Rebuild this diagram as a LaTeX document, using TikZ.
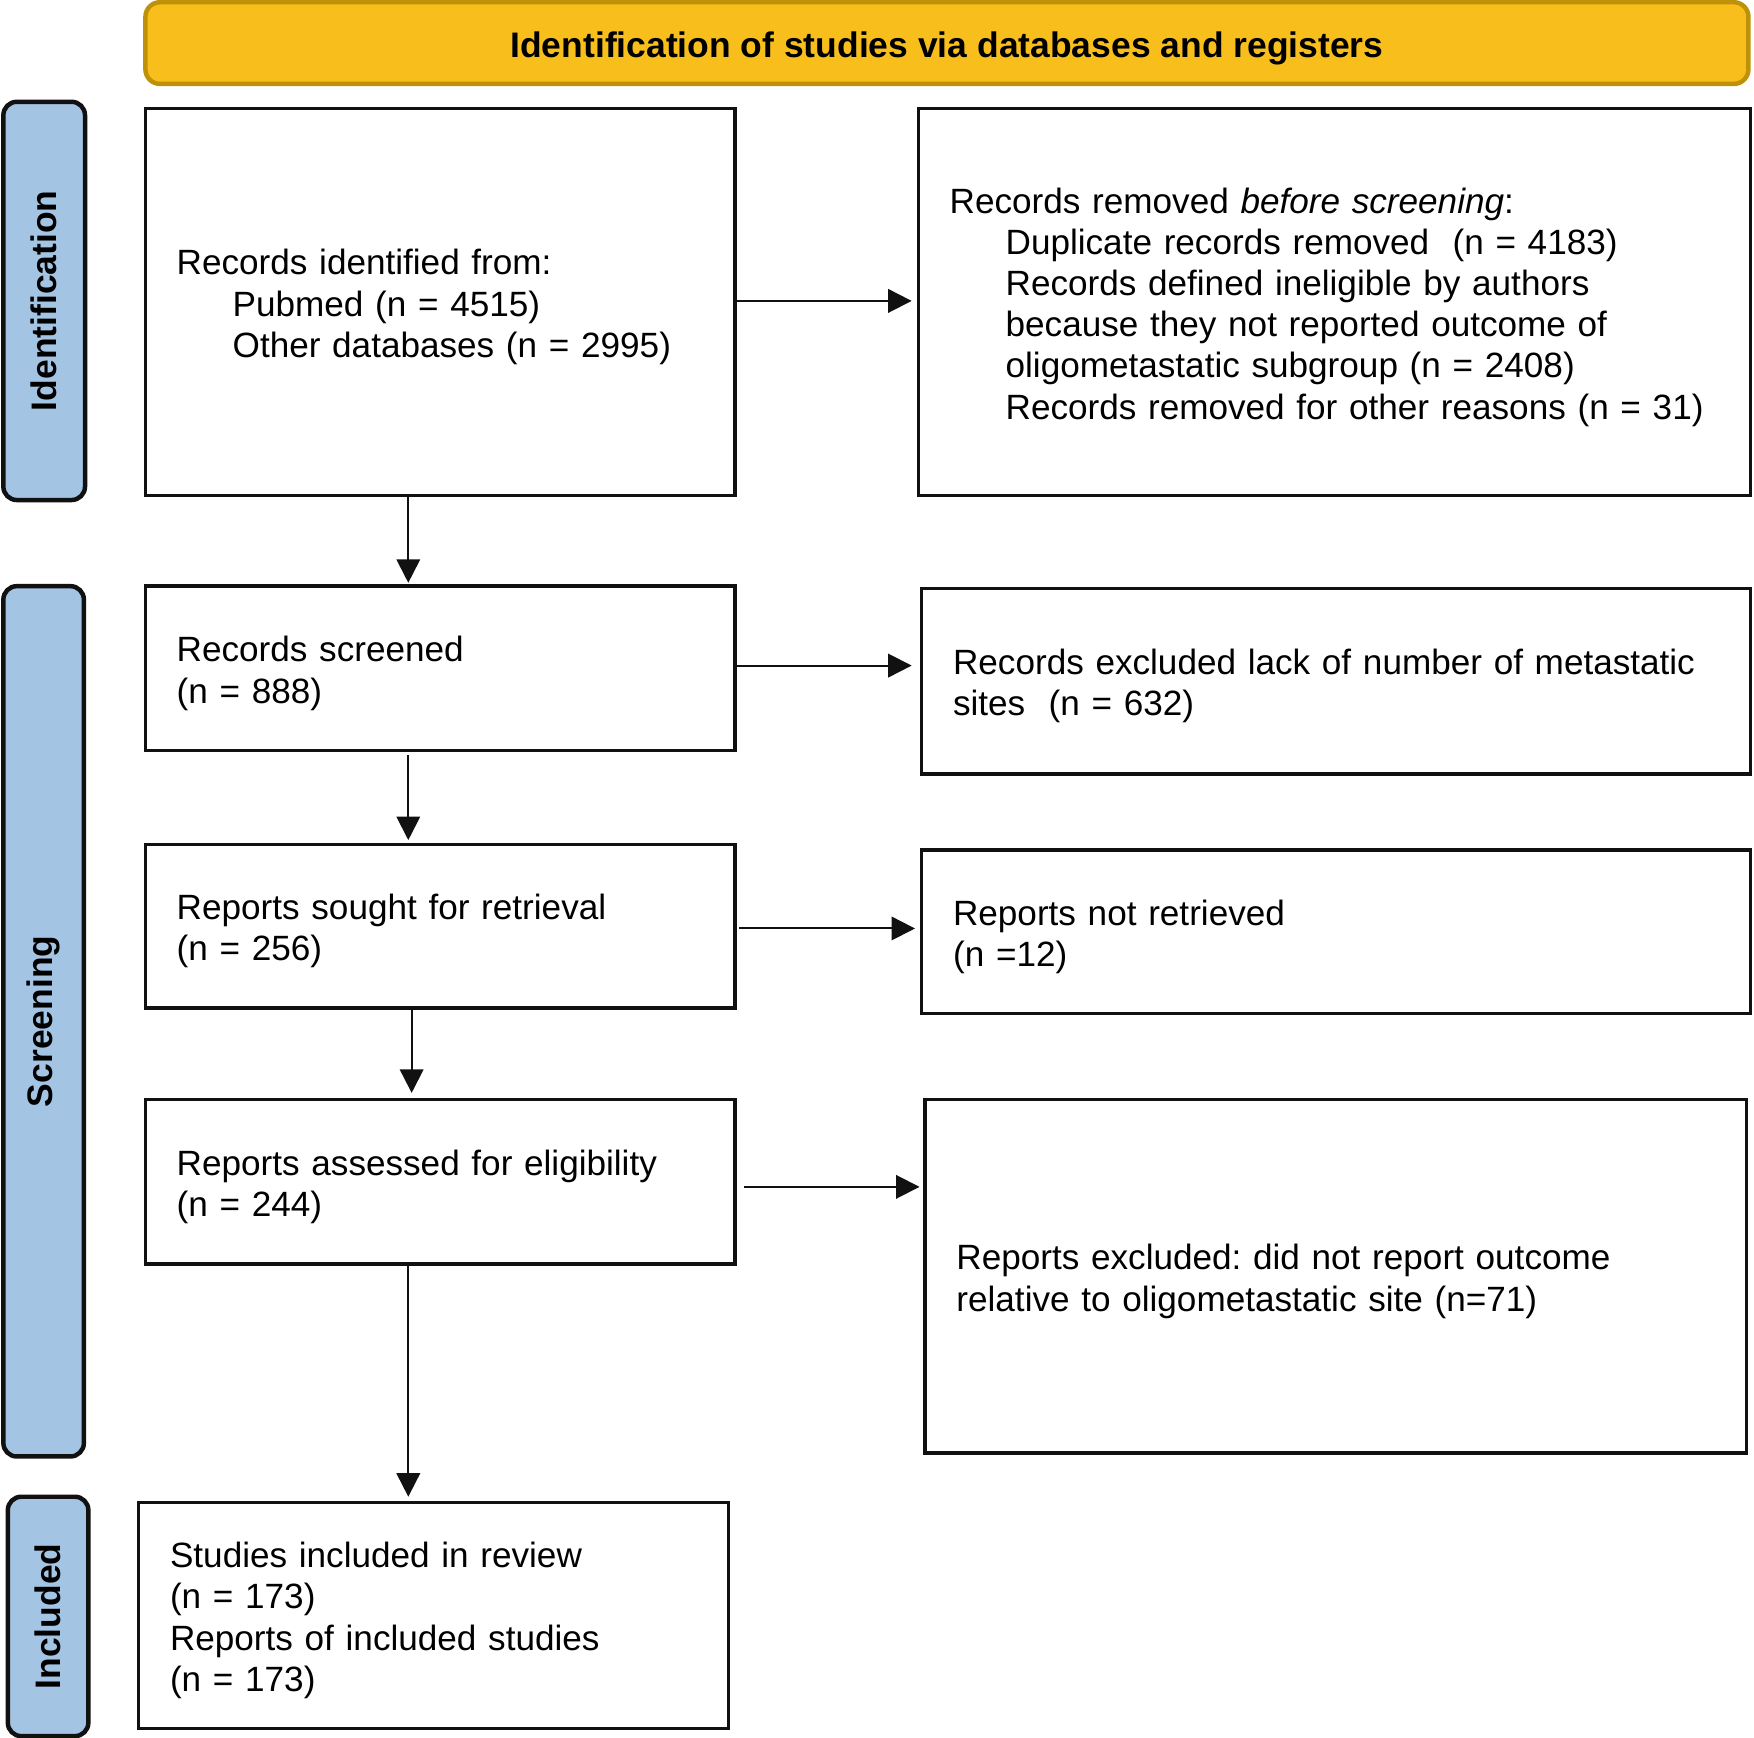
\documentclass[tikz,border=0pt]{standalone}
\usepackage{fontspec}
\setmainfont{Liberation Sans}
\usetikzlibrary{arrows.meta}
\definecolor{titlefill}{HTML}{F8BF1C}
\definecolor{titleedge}{HTML}{BF9108}
\definecolor{tabfill}{HTML}{A4C4E4}
\definecolor{edgedark}{HTML}{111111}
\frenchspacing
\tikzset{
  boxnode/.style={draw=edgedark, line width=3pt, fill=white, inner xsep=28pt, inner ysep=0pt,
    outer sep=0pt, align=left, anchor=north west,
    font=\fontsize{31.4}{36.8}\selectfont\frenchspacing,
    execute at end node={\par\vspace*{-9pt}}},
  tabnode/.style={draw=edgedark, line width=4pt, fill=tabfill, rounded corners=12pt,
    rotate=90, outer sep=0pt, inner sep=0pt, anchor=center,
    font=\fontsize{31.7}{37}\selectfont\bfseries},
  titlenode/.style={draw=titleedge, line width=4pt, fill=titlefill, rounded corners=13pt,
    outer sep=0pt, inner sep=0pt, anchor=north west, text height=25.8pt, text depth=0pt,
    font=\fontsize{31.7}{37}\selectfont\bfseries},
  arr/.style={line width=1.8pt, draw=edgedark, -{Triangle[length=21pt,width=21pt]}},
}
\newcommand{\ind}{\hspace*{50pt}}
\begin{document}
\begin{tikzpicture}[x=1pt,y=-1pt]
\useasboundingbox (0,0) rectangle (1568,1553);
% title
\node[titlenode, minimum width=1433pt, minimum height=73pt] (title) at (130,2)
  {Identification of studies via databases and registers};
% side tabs
\node[tabnode, minimum width=356pt, minimum height=73pt] (t1) at (39.5,269) {Identification};
\node[tabnode, minimum width=778pt, minimum height=72pt] (t2) at (39,913) {Screening};
\node[tabnode, minimum width=214pt, minimum height=72pt] (t3) at (43,1445) {Included};
% boxes
\node[boxnode, minimum width=527pt, minimum height=346pt, text width=471pt] (b1) at (130,97)
  {Records identified from:\\ \ind Pubmed (n = 4515)\\ \ind Other databases (n = 2995)};
\node[boxnode, minimum width=744pt, minimum height=346pt, text width=688pt] (b2) at (821,97)
  {Records removed \textit{before screening}:\\
   \ind Duplicate records removed\ \ (n = 4183)\\
   \ind Records defined ineligible by authors\\
   \ind because they not reported outcome of\\
   \ind oligometastatic subgroup (n = 2408)\\
   \ind Records removed for other reasons (n = 31)};
\node[boxnode, minimum width=527pt, minimum height=147pt, text width=471pt] (b3) at (130,524)
  {Records screened\\(n = 888)};
\node[boxnode, minimum width=741pt, minimum height=166pt, text width=685pt] (b4) at (824,526)
  {Records excluded lack of number of metastatic\\sites\ \ (n = 632)};
\node[boxnode, minimum width=527pt, minimum height=146pt, text width=471pt] (b5) at (130,755)
  {Reports sought for retrieval\\(n = 256)};
\node[boxnode, minimum width=741pt, minimum height=146pt, text width=685pt] (b6) at (824,760)
  {Reports not retrieved\\(n =12)};
\node[boxnode, minimum width=527pt, minimum height=147pt, text width=471pt] (b7) at (130,983)
  {Reports assessed for eligibility\\(n = 244)};
\node[boxnode, minimum width=734pt, minimum height=316pt, text width=678pt] (b8) at (827,983)
  {Reports excluded: did not report outcome\\relative to oligometastatic site (n=71)};
\node[boxnode, minimum width=527pt, minimum height=202pt, text width=471pt] (b9) at (124,1343)
  {Studies included in review\\(n = 173)\\Reports of included studies\\(n = 173)};
% guide coordinates for vertical connectors
\coordinate (cx1) at (365,0);
\coordinate (cx2) at (368,0);
% horizontal connectors
\draw[arr, shorten >=6pt] ([yshift=1pt]b1.east) -- ([yshift=1pt]b1.east -| b2.west);
\draw[arr, shorten >=9pt] ([yshift=2.5pt]b3.east) -- ([yshift=2.5pt]b3.east -| b4.west);
\draw[arr, shorten <=4pt, shorten >=6pt] ([yshift=-2pt]b5.east) -- ([yshift=-2pt]b5.east -| b6.west);
\draw[arr, shorten <=8pt, shorten >=5pt] ([yshift=-4.5pt]b7.east) -- ([yshift=-4.5pt]b7.east -| b8.west);
% vertical connectors
\draw[arr, shorten >=3pt] (cx1 |- b1.south) -- (cx1 |- b3.north);
\draw[arr, shorten <=4pt, shorten >=4pt] (cx1 |- b3.south) -- (cx1 |- b5.north);
\draw[arr, shorten >=6pt] (cx2 |- b5.south) -- (cx2 |- b7.north);
\draw[arr, shorten >=5pt] (cx1 |- b7.south) -- (cx1 |- b9.north);
\end{tikzpicture}
\end{document}
